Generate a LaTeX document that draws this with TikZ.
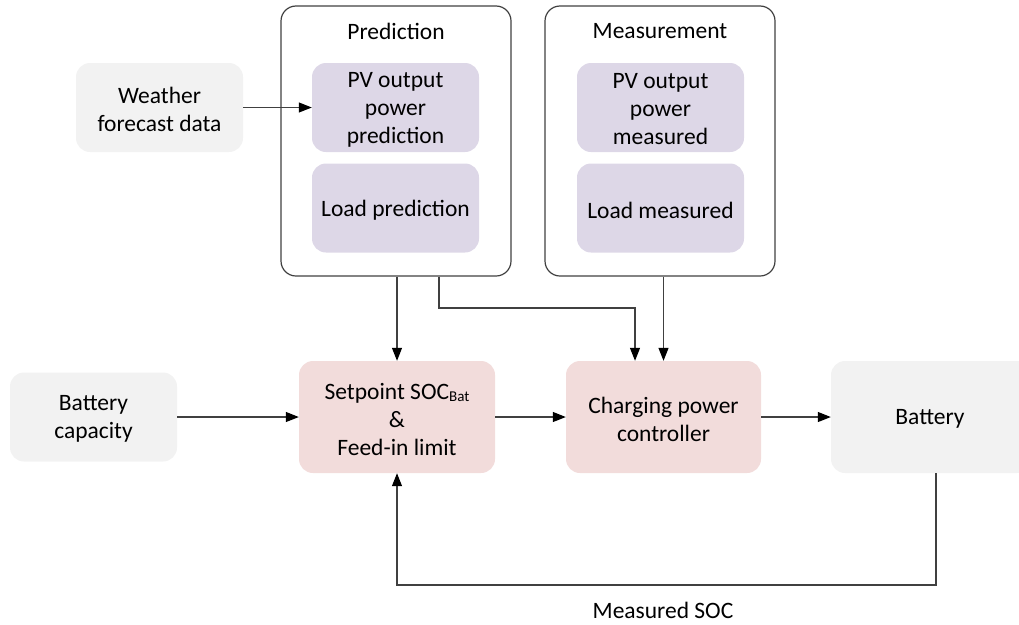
\documentclass[tikz,border=0pt]{standalone}
\usepackage{fontspec}
\setmainfont{Carlito}
\usetikzlibrary{arrows.meta}
\definecolor{lav}{HTML}{DDD7E7}
\definecolor{pnk}{HTML}{F2DCDB}
\definecolor{gry}{HTML}{F2F2F2}
\definecolor{ln}{HTML}{404040}
\begin{document}
\begin{tikzpicture}[x=1pt,y=-1pt,
  every node/.style={font=\fontsize{23.5}{28}\selectfont, align=center, inner sep=0pt},
  outer/.style={draw=ln, line width=1.2pt, rounded corners=15pt, minimum width=230pt, minimum height=270pt},
  lbox/.style={fill=lav, rounded corners=14pt, minimum width=167pt, minimum height=89pt},
  gbox/.style={fill=gry, rounded corners=14pt, minimum width=167pt, minimum height=89pt},
  pbox/.style={fill=pnk, rounded corners=14pt, minimum width=196pt, minimum height=112pt},
  txt/.style={yshift=-2pt},
  arr/.style={draw=ln, line width=1.2pt, -{Triangle[length=13pt,width=10pt,color=black]}}]
\useasboundingbox (0,0) rectangle (1019,624);
\clip (0,0) rectangle (1019,624);
% outer groups
\node[outer] (pred) at (396,141) {};
\node[outer] (meas) at (660,141) {};
\node[txt] (predt) at (396,29) {Prediction};
\node[txt] (meast) at (660,29) {Measurement};
% inner boxes
\node[lbox] (pvp) at (395.5,107.5) {};
\node[txt] (pvpt) at (pvp) {PV output\\power\\prediction};
\node[lbox] (lp) at (395.5,208) {};
\node[txt] (lpt) at (lp) {Load prediction};
\node[lbox] (pvm) at (660.5,107.5) {};
\node[txt] (pvmt) at (pvm) {PV output\\power\\measured};
\node[lbox] (lm) at (660.5,208) {};
\node[txt] (lmt) at (lm) {Load measured};
% left inputs
\node[gbox] (wf) at (159.5,107.5) {};
\node[txt] (wft) at (wf) {Weather\\forecast data};
\node[gbox] (bc) at (93.5,417) {};
\node[txt] (bct) at (bc) {Battery\\capacity};
% main row
\node[pbox] (sp) at (397,417) {};
\node[txt] (spt) at (sp) {Setpoint SOC{\fontsize{15}{15}\selectfont\raisebox{-0.35ex}{Bat}}\\\&\\Feed-in limit};
\node[pbox, minimum width=195pt] (cp) at (663.5,417) {};
\node[txt] (cpt) at (cp) {Charging power\\controller};
\node[fill=gry, rounded corners=14pt, minimum width=200pt, minimum height=112pt] (bat) at (931,417) {};
\node[txt] (batt) at (930,417) {Battery};
\node[txt] (msoc) at (663,608) {Measured SOC};
% connectors
\draw[arr] (wf.east) -- (pvp.west);
\draw[arr] (sp.north |- pred.south) -- (sp.north);
\coordinate (a) at (439,308);
\coordinate (b) at (635,308);
\draw[arr] (pred.south -| a) -- (a) -- (b) -- (b |- cp.north);
\draw[arr] (cp.north |- meas.south) -- (cp.north);
\draw[arr] (bc.east) -- (sp.west);
\draw[arr] (sp.east) -- (cp.west);
\draw[arr] (cp.east) -- (bat.west);
\coordinate (fb) at (936,585);
\draw[arr] (bat.south -| fb) |- (sp.south |- fb) -- (sp.south);
\end{tikzpicture}
\end{document}
